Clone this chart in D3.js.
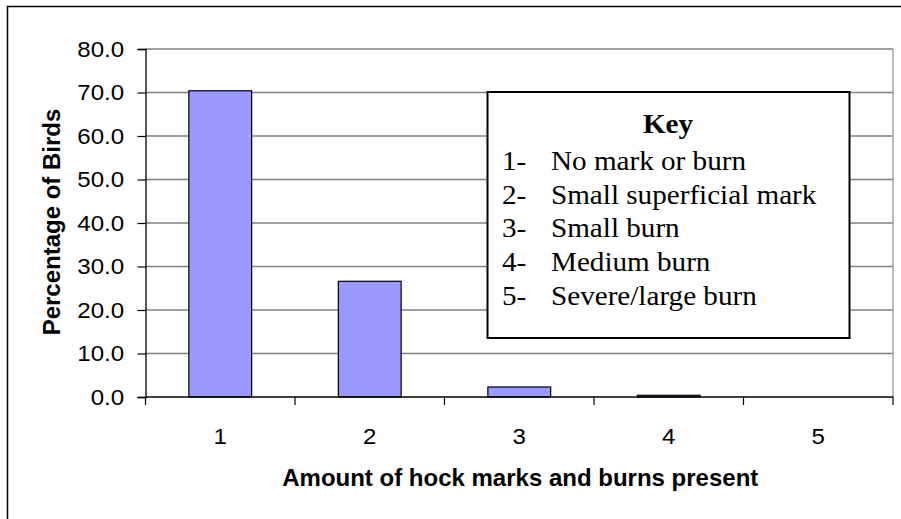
<!DOCTYPE html>
<html>
<head>
<meta charset="utf-8">
<script src="https://cdn.jsdelivr.net/npm/d3@7"></script>
<style>
  body { margin: 0; background: #fff; }
  svg { display: block; }
</style>
</head>
<body>
<div id="chart"></div>
<script>
// hock mark scores and share of birds (%)
const categories = ['1', '2', '3', '4', '5'];
const percentages = [70.4, 26.6, 2.3, 0.4, 0.0];
const yTicks = [0, 10, 20, 30, 40, 50, 60, 70, 80];
const keyTitle = 'Key';
const keyCodes = ['1-', '2-', '3-', '4-', '5-'];
const keyLabels = ['No mark or burn', 'Small superficial mark', 'Small burn', 'Medium burn', 'Severe/large burn'];

(function(){
  const W = 901, H = 519;
  const plot = {left: 145.5, right: 893, top: 49, bottom: 397};
  const SANS = 'Liberation Sans, Arial, sans-serif';
  const SERIF = 'Liberation Serif, Times New Roman, serif';

  const svg = d3.select('#chart').append('svg').attr('width', W).attr('height', H);

  // outer chart border (only top/left visible in the crop)
  svg.append('path').attr('d', `M7.5,${H} V6.5 H${W}`)
    .attr('fill', 'none').attr('stroke', '#000').attr('stroke-width', 1.5);

  const x = d3.scaleBand().domain(categories).range([plot.left, plot.right]).paddingInner(0.58).paddingOuter(0.29);
  const xEdge = d3.scaleLinear().domain([0, categories.length]).range([plot.left, plot.right]);
  const y = d3.scaleLinear().domain([0, 80]).range([plot.bottom, plot.top]);

  // gridlines
  svg.append('g').selectAll('line').data(yTicks.filter(d => d > 0)).enter().append('line')
    .attr('x1', plot.left).attr('x2', plot.right)
    .attr('y1', d => y(d)).attr('y2', d => y(d))
    .attr('stroke', '#808080').attr('stroke-width', 1.3);

  // plot area right edge
  svg.append('line').attr('x1', plot.right).attr('x2', plot.right).attr('y1', plot.top).attr('y2', plot.bottom)
    .attr('stroke', '#9a9a9a').attr('stroke-width', 1.3);

  // bars
  svg.append('g').selectAll('rect').data(percentages).enter().append('rect')
    .attr('x', (d, i) => x(categories[i]))
    .attr('width', x.bandwidth())
    .attr('y', d => y(d))
    .attr('height', d => y(0) - y(d))
    .attr('fill', '#9999ff').attr('stroke', '#000').attr('stroke-width', 1.2);

  // y axis
  const yAxis = svg.append('g').attr('transform', `translate(${plot.left},0)`)
    .call(d3.axisLeft(y).tickValues(yTicks).tickFormat(d3.format('.1f')).tickSizeOuter(0).tickSize(8));
  yAxis.select('.domain').attr('stroke', '#000').attr('stroke-width', 1.3);
  yAxis.selectAll('.tick line').attr('stroke', '#000').attr('stroke-width', 1.2);
  yAxis.selectAll('text').attr('font-family', SANS).attr('font-size', 22.5).attr('fill', '#000')
    .attr('x', -20).attr('transform', 'scale(1.07,1)');

  // x axis: ticks between categories, labels centred
  const xAxis = svg.append('g').attr('transform', `translate(0,${plot.bottom})`);
  xAxis.append('line').attr('x1', plot.left).attr('x2', plot.right).attr('stroke', '#000').attr('stroke-width', 1.3);
  xAxis.selectAll('line.tk').data(d3.range(categories.length + 1)).enter().append('line').attr('class', 'tk')
    .attr('x1', d => xEdge(d)).attr('x2', d => xEdge(d)).attr('y1', 0).attr('y2', 8)
    .attr('stroke', '#000').attr('stroke-width', 1.2);
  xAxis.selectAll('text').data(categories).enter().append('text')
    .attr('transform', d => `translate(${x(d) + x.bandwidth() / 2},46.5) scale(1.07,1)`)
    .attr('text-anchor', 'middle')
    .attr('font-family', SANS).attr('font-size', 22.5)
    .text(d => d);

  // axis titles
  svg.append('text').attr('x', (plot.left + plot.right) / 2 + 1).attr('y', 486)
    .attr('text-anchor', 'middle').attr('font-family', SANS)
    .attr('font-size', 24).attr('font-weight', 'bold').text('Amount of hock marks and burns present');
  svg.append('text').attr('transform', 'translate(60,222) rotate(-90)')
    .attr('text-anchor', 'middle').attr('font-family', SANS)
    .attr('font-size', 24).attr('font-weight', 'bold').text('Percentage of Birds');

  // key box
  const key = svg.append('g');
  key.append('rect').attr('x', 487.5).attr('y', 92).attr('width', 362).attr('height', 246)
    .attr('fill', '#fff').attr('stroke', '#000').attr('stroke-width', 2);
  key.append('text').attr('transform', 'translate(668,133) scale(1.1,1)').attr('text-anchor', 'middle')
    .attr('font-family', SERIF).attr('font-size', 26.5).attr('font-weight', 'bold')
    .text(keyTitle);
  const rows = key.selectAll('g.row').data(keyLabels).enter().append('g').attr('class', 'row')
    .attr('transform', (d, i) => `translate(0,${170 + i * 33.7})`);
  rows.append('text').attr('transform', 'translate(502,0) scale(1.1,1)')
    .attr('font-family', SERIF).attr('font-size', 26.5)
    .text((d, i) => keyCodes[i]);
  rows.append('text').attr('transform', 'translate(551,0) scale(1.1,1)')
    .attr('font-family', SERIF).attr('font-size', 26.5)
    .text(d => d);
})();
</script>
</body>
</html>
